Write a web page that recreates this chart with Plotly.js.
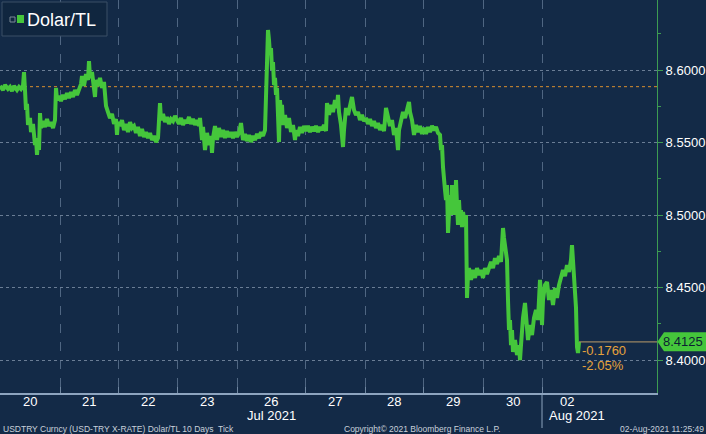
<!DOCTYPE html>
<html>
<head>
<meta charset="utf-8">
<script src="https://cdn.plot.ly/plotly-3.0.1.min.js"></script>
<style>
html,body{margin:0;padding:0;background:#132a47;}
#chart{width:706px;height:434px;}
</style>
</head>
<body>
<div id="chart"></div>
<script>
// ---- DATA ----
// x: tick sequence index of the 10-day tick chart, y: USD/TRY
const tickIndex = [
0,3,5,8,10,12,14,17,19,21,23,24,25,26,27,28,30,31,33,35,36,37,38,39,40,41,43,45,47,49,51,53,55,56,57,59,
61,63,65,67,69,71,73,75,77,79,81,82,84,86,88,89,90,92,94,95,96,98,100,102,104,106,108,110,112,114,116,117,118,
120,122,124,126,128,130,132,134,136,138,140,142,144,146,148,150,152,154,156,158,160,161,163,165,167,169,171,173,175,177,
179,181,183,185,187,189,191,193,195,197,199,200,202,203,205,207,209,211,212,213,215,217,219,221,223,225,227,229,231,233,235,237,
239,241,243,245,247,249,251,253,255,257,259,261,263,265,266,267,268,269,270,271,272,273,274,275,276,277,278,279,280,281,282,283,285,287,289,291,293,295,296,298,300,302,304,
306,308,310,312,314,316,318,320,322,324,326,327,329,331,333,335,337,338,339,341,343,344,346,348,350,352,354,356,358,360,362,364,
366,368,370,372,374,376,378,380,382,384,386,388,390,392,394,396,398,399,401,403,405,407,409,410,412,414,416,418,420,422,
424,426,428,430,432,434,436,438,440,441,442,443,444,445,446,447,448,449,450,451,452,453,454,455,456,457,458,459,460,461,462,463,465,466,467,468,469,471,473,475,477,479,481,483,
485,487,489,491,493,495,497,499,501,503,504,505,506,507,508,509,510,511,512,513,515,517,519,520,521,522,523,525,526,528,530,532,534,536,538,540,541,
542,543,545,547,549,551,553,555,557,559,561,563,565,567,569,571,572,573,574,575,576,577,578,579
];
const usdTry = [
8.5890,8.5862,8.5897,8.5869,8.5883,8.5855,8.5890,8.5862,8.5883,8.5869,8.5890,8.5986,8.5862,8.5724,8.5766,8.5621,8.5669,8.5572,8.5628,8.5483,8.5531,8.5414,8.5503,8.5448,8.5703,8.5600,8.5648,8.5607,8.5662,8.5614,8.5641,8.5600,8.5655,8.5876,8.5793,8.5821,
8.5786,8.5828,8.5800,8.5841,8.5807,8.5848,8.5814,8.5862,8.5828,8.5876,8.5903,8.5959,8.5890,8.5972,8.5931,8.6062,8.5945,8.5986,8.5897,8.5814,8.5931,8.5890,8.5945,8.5876,8.5917,8.5752,8.5710,8.5669,8.5697,8.5628,8.5662,8.5552,8.5641,
8.5614,8.5655,8.5586,8.5628,8.5572,8.5641,8.5600,8.5614,8.5566,8.5607,8.5545,8.5593,8.5538,8.5572,8.5531,8.5566,8.5517,8.5545,8.5503,8.5531,8.5772,8.5655,8.5697,8.5641,8.5676,8.5628,8.5662,8.5648,8.5683,8.5655,
8.5628,8.5669,8.5621,8.5655,8.5634,8.5676,8.5628,8.5662,8.5621,8.5655,8.5614,8.5669,8.5517,8.5607,8.5448,8.5566,8.5483,8.5545,8.5428,8.5531,8.5614,8.5517,8.5600,8.5538,8.5586,8.5531,8.5579,8.5538,8.5572,8.5531,8.5572,8.5538,
8.5566,8.5634,8.5517,8.5559,8.5510,8.5552,8.5503,8.5545,8.5517,8.5559,8.5531,8.5572,8.5545,8.5586,8.5793,8.6172,8.6276,8.6207,8.6103,8.6152,8.6000,8.6055,8.5897,8.5945,8.5828,8.5876,8.5724,8.5503,8.5793,8.5690,8.5759,8.5621,8.5690,8.5600,8.5669,8.5572,8.5621,8.5517,8.5586,8.5545,8.5607,8.5566,8.5614,
8.5579,8.5614,8.5572,8.5607,8.5579,8.5614,8.5572,8.5607,8.5586,8.5621,8.5579,8.5772,8.5690,8.5759,8.5710,8.5793,8.5738,8.5828,8.5710,8.5621,8.5469,8.5586,8.5738,8.5690,8.5766,8.5814,8.5724,8.5690,8.5710,8.5655,8.5690,8.5648,
8.5669,8.5628,8.5662,8.5614,8.5648,8.5600,8.5634,8.5586,8.5621,8.5579,8.5738,8.5669,8.5614,8.5655,8.5552,8.5600,8.5448,8.5586,8.5669,8.5710,8.5669,8.5738,8.5779,8.5710,8.5655,8.5552,8.5621,8.5572,8.5614,8.5559,
8.5600,8.5559,8.5607,8.5572,8.5614,8.5586,8.5607,8.5566,8.5552,8.5448,8.5483,8.5331,8.5276,8.5172,8.5103,8.5207,8.4876,8.5034,8.5138,8.5000,8.5207,8.5069,8.5172,8.5000,8.5241,8.5069,8.4931,8.5103,8.4966,8.5034,8.4917,8.5021,8.4931,8.5000,8.4428,8.4586,8.4634,8.4552,8.4621,8.4566,8.4634,8.4586,8.4621,8.4566,
8.4634,8.4593,8.4648,8.4676,8.4634,8.4703,8.4662,8.4717,8.4676,8.4910,8.4841,8.4793,8.4745,8.4690,8.4414,8.4207,8.4276,8.4103,8.4207,8.4055,8.4138,8.4034,8.4103,8.4000,8.4103,8.4207,8.4290,8.4393,8.4276,8.4138,8.4241,8.4172,8.4290,8.4345,8.4276,8.4552,8.4448,
8.4241,8.4414,8.4517,8.4538,8.4414,8.4483,8.4379,8.4497,8.4428,8.4517,8.4566,8.4621,8.4579,8.4655,8.4607,8.4690,8.4793,8.4676,8.4517,8.4414,8.4359,8.4090,8.4048,8.4125
];
const prevClose = 8.5885;
const dayLabels = ['20','21','22','23','26','27','28','29','30','02'];
const dayBounds = [0,60,118,177,237,305,365,423,483,542,592];
const monthLabels = [{day:4, text:'Jul 2021'}, {day:9, text:'Aug 2021'}];
const yTicks = [8.40, 8.45, 8.50, 8.55, 8.60];
const seriesName = 'Dolar/TL';
const footerLeft = 'USDTRY Curncy (USD-TRY X-RATE) Dolar/TL 10 Days  Tick';
const footerMid = 'Copyright\u00A9 2021 Bloomberg Finance L.P.';
const footerRight = '02-Aug-2021 11:25:49';

// ---- STYLE ----
const W = 706, H = 434;
const M = {l:0, r:49, t:0, b:41};
const PW = W - M.l - M.r, PH = H - M.t - M.b;
const px = x => x / PW;          // pixel -> paper x
const py = y => 1 - y / PH;      // pixel -> paper y
const BG = '#132a47';
const GREEN = '#45c63b';
const FONT = 'Liberation Sans, Arial, sans-serif';
const yRange = [8.37724, 8.64828];
const xRange = [0, 657];

const last = usdTry[usdTry.length - 1];
const lastX = tickIndex[tickIndex.length - 1];
const chg = last - prevClose;
const pct = chg / prevClose * 100;
const yPerPx = (yRange[1] - yRange[0]) / PH;

const annotations = [];
for (let i = 0; i < dayLabels.length; i++) {
  annotations.push({
    xref:'x', yref:'paper', x:(dayBounds[i] + dayBounds[i+1]) / 2, y:py(402),
    text:dayLabels[i], showarrow:false, xanchor:'center', yanchor:'middle',
    font:{family:FONT, size:13, color:'#ffffff'}
  });
}
monthLabels.forEach(m => {
  const isLastMonth = m.day === dayLabels.length - 1;
  annotations.push({
    xref:'x', yref:'paper',
    x: isLastMonth ? dayBounds[m.day] + 5 : (dayBounds[m.day] + dayBounds[m.day+1]) / 2,
    y:py(415), text:m.text, showarrow:false,
    xanchor: isLastMonth ? 'left' : 'center', yanchor:'middle',
    font:{family:FONT, size:13, color:'#ffffff'}
  });
});
annotations.push({xref:'paper', yref:'paper', x:px(1), y:py(429), text:footerLeft, showarrow:false,
  xanchor:'left', yanchor:'middle', font:{family:FONT, size:8.5, color:'#c9d1db'}});
annotations.push({xref:'paper', yref:'paper', x:px(342), y:py(429), text:footerMid, showarrow:false,
  xanchor:'left', yanchor:'middle', font:{family:FONT, size:8.5, color:'#c9d1db'}});
annotations.push({xref:'paper', yref:'paper', x:px(706), y:py(429), text:footerRight, showarrow:false,
  xanchor:'right', yanchor:'middle', font:{family:FONT, size:8.5, color:'#c9d1db'}});
annotations.push({xref:'paper', yref:'paper', x:px(25), y:py(20), text:seriesName, showarrow:false,
  xanchor:'left', yanchor:'middle', font:{family:FONT, size:18, color:'#ffffff'}});
annotations.push({xref:'paper', yref:'y', x:px(661), y:last, text:last.toFixed(4), showarrow:false,
  xanchor:'left', yanchor:'middle', font:{family:FONT, size:13, color:'#0c1f33'}});
annotations.push({xref:'x', yref:'y', x:lastX + 1, y:last, yshift:-9, text:chg.toFixed(4), showarrow:false,
  xanchor:'left', yanchor:'middle', font:{family:FONT, size:13, color:'#e5a23c'}});
annotations.push({xref:'x', yref:'y', x:lastX + 1, y:last, yshift:-24, text:pct.toFixed(2) + '%', showarrow:false,
  xanchor:'left', yanchor:'middle', font:{family:FONT, size:13, color:'#e5a23c'}});

const h = 9.5 * yPerPx;
const shapes = [
  {type:'line', xref:'paper', yref:'y', x0:0, x1:1, y0:prevClose, y1:prevClose,
   line:{color:'#d98f2e', width:1, dash:'dot'}, layer:'below'},
  {type:'line', xref:'x', yref:'y', x0:lastX, x1:xRange[1], y0:last, y1:last,
   line:{color:'#9a8562', width:1.2}},
  {type:'line', xref:'x', yref:'paper', x0:dayBounds[9], x1:dayBounds[9], y0:0, y1:py(428),
   line:{color:'#8da4bf', width:1}},
  {type:'rect', xref:'paper', yref:'paper', x0:px(2), x1:px(107), y0:py(36), y1:py(2),
   fillcolor:'#10263f', line:{color:'#3a4f67', width:1}},
  {type:'rect', xref:'paper', yref:'paper', x0:px(10), x1:px(15), y0:py(22), y1:py(17),
   line:{color:'#7c8a99', width:1}},
  {type:'rect', xref:'paper', yref:'paper', x0:px(17), x1:px(24), y0:py(23), y1:py(15),
   fillcolor:GREEN, line:{width:0}},
  {type:'path', xref:'paper', yref:'y',
   path:`M ${px(657.5)} ${last} L ${px(664)} ${last + h} L ${px(706)} ${last + h} L ${px(706)} ${last - h} L ${px(664)} ${last - h} Z`,
   fillcolor:GREEN, line:{width:0}}
];

const trace = {
  x: tickIndex, y: usdTry, type:'scatter', mode:'lines',
  line:{color:GREEN, width:4}, hoverinfo:'skip', showlegend:false
};

const layout = {
  width:W, height:H, autosize:false,
  margin:M, paper_bgcolor:BG, plot_bgcolor:BG,
  showlegend:false,
  xaxis:{
    type:'linear', range:xRange, fixedrange:true,
    tickvals:dayBounds.slice(1, 10), showticklabels:false,
    ticks:'inside', ticklen:6, tickcolor:'#6f86a0',
    showgrid:true, gridcolor:'#4f6682', griddash:'dash', gridwidth:1,
    showline:true, linecolor:'#8da4bf', linewidth:1.5, zeroline:false
  },
  yaxis:{
    side:'right', range:yRange, fixedrange:true,
    tickvals:yTicks, tickformat:'.4f',
    ticks:'outside', ticklen:5, tickcolor:'#3d9c52',
    tickfont:{family:FONT, size:13, color:'#ffffff'},
    showgrid:true, gridcolor:'#6a7d95', griddash:'dot', gridwidth:1,
    showline:true, linecolor:'#3d9c52', linewidth:1, zeroline:false,
    minor:{dtick:0.025, tick0:8.4, ticks:'outside', ticklen:3, tickcolor:'#3d9c52', showgrid:false}
  },
  shapes:shapes, annotations:annotations
};

Plotly.newPlot('chart', [trace], layout, {staticPlot:true, displayModeBar:false});
</script>
</body>
</html>
